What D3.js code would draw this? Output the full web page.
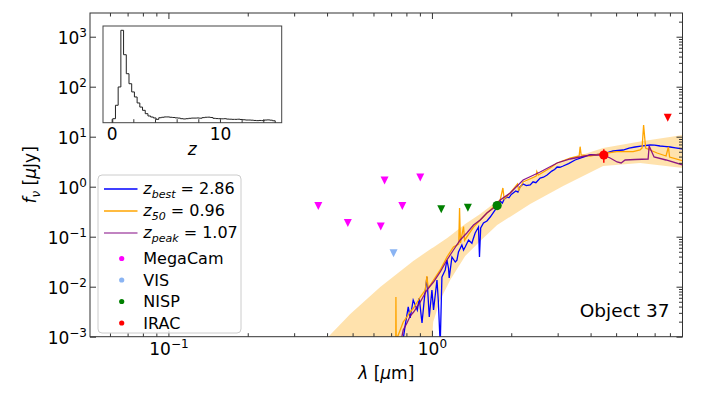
<!DOCTYPE html>
<html>
<head>
<meta charset="utf-8">
<script src="https://cdn.jsdelivr.net/npm/d3@7"></script>
<style>
  body { margin: 0; background: #fff; }
  svg { display: block; font-family: "DejaVu Sans", sans-serif; }
  text { white-space: pre; }
</style>
</head>
<body>
<svg id="chart" width="703" height="395"></svg>
<script>
// best fit SED templates, [lambda (um), f_nu (uJy)]
var zBestSed = [[0.772,6.8e-4],[0.792,1.71e-3],[0.813,3.93e-3],[0.827,2.37e-3],[0.849,5.42e-3],[0.880,3.42e-3],
  [0.895,5.94e-3],[0.917,1.88e-3],[0.935,5.42e-3],[0.957,0.0156],[0.977,2.48e-3],[1.000,8.59e-3],[1.014,3.42e-3],
  [1.045,0.0136],[1.057,5.42e-3],[1.075,6.8e-4],[1.091,0.0156],[1.123,0.0216],[1.140,0.0342],[1.156,0.0234],
  [1.163,0.0149],[1.191,0.0393],[1.226,0.0312],[1.244,0.034],[1.261,0.0494],[1.299,0.0682],[1.318,0.054],
  [1.337,0.0622],[1.377,0.0859],[1.418,0.074],[1.430,0.0859],[1.459,0.1186],[1.502,0.1563],[1.515,0.0393],
  [1.531,0.1493],[1.569,0.1879],[1.617,0.2061],[1.664,0.2477],[1.738,0.342],[1.816,0.518],[1.85,0.47],[1.88,0.56],
  [1.930,0.622],[1.96,0.60],[2.0,0.70],[2.034,0.748],[2.08,0.82],[2.12,0.78],[2.16,1.0],[2.219,1.132],[2.28,1.05],
  [2.360,1.081],[2.42,1.25],[2.48,1.20],[2.574,1.493],[2.65,1.55],[2.736,1.714],[2.85,2.05],[2.92,2.2],[2.986,2.477],
  [3.06,2.45],[3.148,2.594],[3.3,2.9],[3.494,3.42],[3.7,3.8],[3.983,4.305],[4.2,4.4],[4.464,4.508],[4.7,4.9],
  [4.869,5.176],[5.314,5.42],[5.6,5.9],[5.901,6.223],[6.2,6.5],[6.727,6.823],[7.0,6.8],[7.340,6.516],[7.6,6.4],
  [8.013,6.223],[8.4,6.0],[8.974,5.675]];

var z50Sed = [[0.719,6.8e-4],[0.729,6.8e-4],[0.730,6.22e-3],[0.732,8.6e-4],[0.745,1.08e-3],[0.758,1.36e-3],
  [0.778,1.97e-3],[0.804,2.48e-3],[0.827,3.12e-3],[0.852,3.75e-3],[0.903,6.22e-3],[0.943,8.59e-3],[0.957,0.0164],
  [0.968,9.42e-3],[1.014,0.0136],[1.075,0.0216],[1.140,0.0393],[1.207,0.0622],[1.264,0.0714],[1.273,0.375],
  [1.283,0.0748],[1.318,0.16],[1.33,0.085],[1.438,0.156],[1.525,0.216],[1.617,0.298],[1.713,0.393],[1.816,0.542],
  [1.859,0.942],[1.880,0.568],[1.981,0.748],[2.112,1.132],[2.134,0.859],[2.219,1.242],[2.486,1.637],[2.501,1.995],
  [2.530,1.714],[2.809,2.366],[2.986,2.979],[3.346,3.75],[3.619,4.111],[3.651,6.31],[3.683,4.305],[3.983,4.111],
  [4.347,4.508],[5.030,5.012],[5.800,5.012],[6.165,5.42],[6.274,5.943],[6.357,17.14],[6.469,5.943],[6.727,5.42],
  [7.150,4.721],[7.734,4.111],[7.894,6.223],[7.978,3.926],[8.974,3.266]];

var zPeakSed = [[0.758,6.8e-4],[0.778,1.36e-3],[0.804,1.88e-3],[0.827,2.59e-3],[0.852,3.12e-3],[0.903,4.94e-3],
  [0.957,8.59e-3],[1.014,0.0124],[1.075,0.0197],[1.140,0.0342],[1.207,0.0542],[1.280,0.0859],[1.357,0.1186],
  [1.438,0.1714],[1.525,0.2158],[1.617,0.2979],[1.713,0.375],[1.816,0.542],[1.981,0.748],[2.219,1.361],
  [2.574,1.968],[2.986,2.979],[3.346,3.581],[3.651,3.926],[3.983,4.305],[4.464,4.305],[4.745,3.75],[5.043,3.119],
  [5.223,2.979],[5.408,3.42],[5.901,3.499],[6.612,3.581],[6.672,6.516],[6.966,3.926],[7.734,3.42],[8.974,2.716]];

// shaded range of the z50 models (null = below the plot)
var bandLam  = [0.4044, 0.4899, 0.6366, 0.8494, 0.995, 1.003, 1.011, 1.075, 1.143, 1.173, 1.337, 1.525, 1.768, 2.36, 3.148, 4.464, 6.165, 8.97];
var bandHigh = [1e-3, 2.84e-3, 9.86e-3, 0.0327, 0.058, 0.0595, 0.0608, 0.0757, 0.0942, 0.1048, 0.1795, 0.2844, 0.5176, 1.426, 3.266, 5.94, 8.02, 10.81];
var bandLow  = [null, null, null, null, null, 1e-3, 1.97e-3, 5.42e-3, 0.0103, 0.0136, 0.0411, 0.082, 0.171, 0.451, 1.03, 2.594, 2.98, 2.366];

// photometry
var megacamLam = [0.3705, 0.4794, 0.6395, 0.661, 0.772, 0.903],
    megacamFlux = [0.411, 0.188, 0.160, 1.33, 0.411, 1.53];
var visLam = [0.715], visFlux = [0.0466];
var nispLam = [1.085, 1.369, 1.768], nispFlux = [0.353, 0.38, 0.42], nispUpper = [true, true, false];
var iracLam = [4.49, 7.85], iracFlux = [4.3, 24.0], iracUpper = [false, true], iracErr = [[3.02, 5.6], null];

// photo-z distribution for the inset
var insetStart = 0.1, insetBinWidth = 0.25;
var insetCounts = [0.97, 2.9, 12.9, 1310, 179, 38, 16.8, 8.6, 5.7, 3.5, 2.5, 1.92, 1.46, 1.21, 1.11, 1.03, 0.92,
  1.05, 1.09, 1.12, 1.12, 1.09, 1.07, 1.04, 1.02,
  0.97, 0.95, 0.97, 1.0, 1.02,
  1.02, 1.03, 1.01,
  1.06, 1.09, 1.1, 1.07,
  1.0, 0.98, 0.97, 0.96, 0.97,
  0.94, 0.93, 0.92, 0.92, 0.93, 0.91,
  0.89, 0.87, 0.87, 0.86,
  0.84, 0.83, 0.84, 0.83,
  0.87, 0.88, 0.86, 0.82];
var insetTicks = [0, 2, 4, 6, 8, 10, 12, 14], insetLabels = {0: "0", 10: "10"};

// ticks
var xMajor = [0.1, 1], xMajorExp = ["\u22121", "0"];
var yMajor = [1e-3, 1e-2, 1e-1, 1, 10, 100, 1000], yMajorExp = ["\u22123", "\u22122", "\u22121", "0", "1", "2", "3"];

var legendRows = [
  {kind: "line", color: "#0000ff", base: "z", sub: "best", rest: " = 2.86"},
  {kind: "line", color: "#ffa500", base: "z", sub: "50", rest: " = 0.96"},
  {kind: "line", color: "#800080", base: "z", sub: "peak", rest: " = 1.07"},
  {kind: "dot", color: "#ff00ff", text: "MegaCam"},
  {kind: "dot", color: "#8ab4f3", text: "VIS"},
  {kind: "dot", color: "#008000", text: "NISP"},
  {kind: "dot", color: "#ff0000", text: "IRAC"}
];

var svg = d3.select("#chart"),
    pLeft = 90, pRight = 682.5, pTop = 13, pBottom = 336.7;

var x = d3.scaleLog().domain([0.0504, 8.93]).range([pLeft, pRight]),
    y = d3.scaleLog().domain([1e-3, 2979]).range([pBottom, pTop]);

function logMinor(lo, hi, dom) {
  var v = [];
  for (var e = lo; e <= hi; e++)
    for (var m = 2; m <= 9; m++) v.push(m * Math.pow(10, e));
  return v.filter(function(d) { return d >= dom[0] && d <= dom[1]; });
}

function powLabel(t, exp) {
  t.append("tspan").text("10");
  t.append("tspan").attr("font-size", "12px").attr("dy", -7).text(exp);
}

function subLabel(t, base, sub, rest, subSize) {
  t.append("tspan").attr("font-style", "italic").text(base);
  t.append("tspan").attr("font-style", "italic").attr("font-size", subSize).attr("dy", 4).text(sub);
  t.append("tspan").attr("dy", -4).text(rest);
}

svg.append("clipPath").attr("id", "plotclip")
   .append("rect").attr("x", pLeft).attr("y", pTop).attr("width", pRight - pLeft).attr("height", pBottom - pTop);

var plot = svg.append("g").attr("clip-path", "url(#plotclip)");

// band
var bandData = bandLam.map(function(l, i) { return {lam: l, hi: bandHigh[i], lo: bandLow[i]}; });
plot.append("path")
    .datum(bandData)
    .attr("fill", "#ffa500")
    .attr("fill-opacity", 0.32)
    .attr("d", d3.area()
        .x(function(d) { return x(d.lam); })
        .y0(function(d) { return d.lo == null ? pBottom + 5 : y(d.lo); })
        .y1(function(d) { return y(d.hi); }));

var line = d3.line()
    .x(function(d) { return x(d[0]); })
    .y(function(d) { return y(d[1]); });

plot.append("path").datum(zBestSed).attr("fill", "none").attr("stroke", "#0000ff").attr("stroke-width", 1.3).attr("d", line);
plot.append("path").datum(z50Sed).attr("fill", "none").attr("stroke", "#ffa500").attr("stroke-width", 1.3).attr("d", line);
plot.append("path").datum(zPeakSed).attr("fill", "none").attr("stroke", "#800080").attr("stroke-opacity", 0.9).attr("stroke-width", 1.3).attr("d", line);

// markers
function downTri(s) { return "M" + (-s) + "," + (-s) + "L" + s + "," + (-s) + "L0," + s + "Z"; }

function drawPoints(lams, fluxes, upper, color) {
  lams.forEach(function(l, i) {
    var px = x(l), py = y(fluxes[i]);
    if (upper[i]) {
      plot.append("path").attr("d", downTri(4)).attr("transform", "translate(" + px + "," + py + ")").attr("fill", color);
    } else {
      plot.append("circle").attr("cx", px).attr("cy", py).attr("r", 4.6).attr("fill", color);
    }
  });
}

drawPoints(megacamLam, megacamFlux, megacamLam.map(function() { return true; }), "#ff00ff");
drawPoints(visLam, visFlux, [true], "#8ab4f3");
drawPoints(nispLam, nispFlux, nispUpper, "#008000");
iracErr.forEach(function(e, i) {
  if (!e) return;
  plot.append("line").attr("x1", x(iracLam[i])).attr("x2", x(iracLam[i]))
      .attr("y1", y(e[0])).attr("y2", y(e[1])).attr("stroke", "#ff0000").attr("stroke-width", 1.5);
});
drawPoints(iracLam, iracFlux, iracUpper, "#ff0000");

// axes
function cleanAxis(g) {
  g.attr("font-size", null).attr("font-family", null);
  g.select(".domain").remove();
  g.selectAll(".tick line").attr("stroke", "#333");
}

var xMinor = logMinor(-2, 0, x.domain()), yMinor = logMinor(-3, 3, y.domain());

var axB = svg.append("g").attr("transform", "translate(0," + pBottom + ")")
    .call(d3.axisBottom(x).tickValues(xMajor).tickSize(-6).tickFormat(function() { return ""; }))
    .call(cleanAxis);
axB.selectAll(".tick text").attr("y", 18.5).attr("dy", null).attr("font-size", "17px").attr("fill", "#000")
   .each(function(d, i) { powLabel(d3.select(this), xMajorExp[i]); });
svg.append("g").attr("transform", "translate(0," + pBottom + ")")
   .call(d3.axisBottom(x).tickValues(xMinor).tickSize(-3.5).tickFormat(function() { return ""; })).call(cleanAxis);
svg.append("g").attr("transform", "translate(0," + pTop + ")")
   .call(d3.axisTop(x).tickValues(xMajor).tickSize(-6).tickFormat(function() { return ""; })).call(cleanAxis);
svg.append("g").attr("transform", "translate(0," + pTop + ")")
   .call(d3.axisTop(x).tickValues(xMinor).tickSize(-3.5).tickFormat(function() { return ""; })).call(cleanAxis);

var axL = svg.append("g").attr("transform", "translate(" + pLeft + ",0)")
    .call(d3.axisLeft(y).tickValues(yMajor).tickSize(-6).tickPadding(3).tickFormat(function() { return ""; }))
    .call(cleanAxis);
axL.selectAll(".tick text").attr("dy", 7).attr("font-size", "17px").attr("fill", "#000")
   .each(function(d, i) { powLabel(d3.select(this), yMajorExp[i]); });
svg.append("g").attr("transform", "translate(" + pRight + ",0)")
   .call(d3.axisRight(y).tickValues(yMajor).tickSize(-6).tickFormat(function() { return ""; })).call(cleanAxis);
svg.append("g").attr("transform", "translate(" + pRight + ",0)")
   .call(d3.axisRight(y).tickValues(yMinor).tickSize(-3.5).tickFormat(function() { return ""; })).call(cleanAxis);

svg.append("rect").attr("x", pLeft).attr("y", pTop).attr("width", pRight - pLeft).attr("height", pBottom - pTop)
   .attr("fill", "none").attr("stroke", "#333").attr("stroke-width", 1);

// axis labels
var xl = svg.append("text").attr("x", (pLeft + pRight) / 2).attr("y", 379).attr("text-anchor", "middle").attr("font-size", "17px");
xl.append("tspan").attr("font-style", "italic").text("\u03bb");
xl.append("tspan").text(" [");
xl.append("tspan").attr("font-style", "italic").text("\u03bc");
xl.append("tspan").text("m]");

var yl = svg.append("text").attr("transform", "translate(36," + (pTop + pBottom) / 2 + ") rotate(-90)")
    .attr("text-anchor", "middle").attr("font-size", "17px");
subLabel(yl, "f", "\u03bd", " [", "12px");
yl.append("tspan").attr("font-style", "italic").text("\u03bc");
yl.append("tspan").text("Jy]");

svg.append("text").attr("x", 669.5).attr("y", 316.5).attr("text-anchor", "end").attr("font-size", "18.5px").text("Object 37");

// legend
var lg = svg.append("g");
lg.append("rect").attr("x", 98).attr("y", 175).attr("width", 143).attr("height", 158).attr("rx", 4)
  .attr("fill", "#fff").attr("fill-opacity", 0.8).attr("stroke", "#ccc");
var rowY = [189, 211, 233, 258.5, 280, 301.5, 323];
legendRows.forEach(function(r, i) {
  var cy = rowY[i];
  if (r.kind === "line") {
    lg.append("line").attr("x1", 104).attr("x2", 137.5).attr("y1", cy).attr("y2", cy)
      .attr("stroke", r.color).attr("stroke-width", 1.3).attr("stroke-opacity", r.color === "#800080" ? 0.65 : 1);
    var t = lg.append("text").attr("x", 143.3).attr("y", cy + 5).attr("font-size", "16px");
    subLabel(t, r.base, r.sub, r.rest, "11px");
  } else {
    lg.append("circle").attr("cx", 121.7).attr("cy", cy).attr("r", 2.6).attr("fill", r.color);
    lg.append("text").attr("x", 143.3).attr("y", cy + 5.5).attr("font-size", "16px").text(r.text);
  }
});

// inset histogram
var xi = d3.scaleLinear().domain([-0.8, 15.7]).range([103, 281.7]),
    yi = d3.scaleLog().domain([0.7, 1860]).range([122.7, 26]);

svg.append("rect").attr("x", 103).attr("y", 26).attr("width", 178.7).attr("height", 96.7)
   .attr("fill", "#fff").attr("stroke", "#444").attr("stroke-width", 1);

var histPts = [[insetStart, yi.domain()[0]]];
insetCounts.forEach(function(c, i) {
  histPts.push([insetStart + i * insetBinWidth, c]);
  histPts.push([insetStart + (i + 1) * insetBinWidth, c]);
});
histPts.push([insetStart + insetCounts.length * insetBinWidth, yi.domain()[0]]);

svg.append("path").datum(histPts).attr("fill", "none").attr("stroke", "#222").attr("stroke-width", 1)
   .attr("d", d3.line().x(function(d) { return xi(d[0]); }).y(function(d) { return yi(d[1]); }));

var axI = svg.append("g").attr("transform", "translate(0,122.7)")
    .call(d3.axisBottom(xi).tickValues(insetTicks).tickSize(-3.5)
      .tickFormat(function(d) { return insetLabels[d] || ""; }))
    .call(cleanAxis);
axI.selectAll(".tick text").attr("y", 17.5).attr("dy", null).attr("font-size", "17px").attr("fill", "#000");

svg.append("text").attr("x", 192.3).attr("y", 155).attr("text-anchor", "middle")
   .attr("font-size", "17px").attr("font-style", "italic").text("z");
</script>
